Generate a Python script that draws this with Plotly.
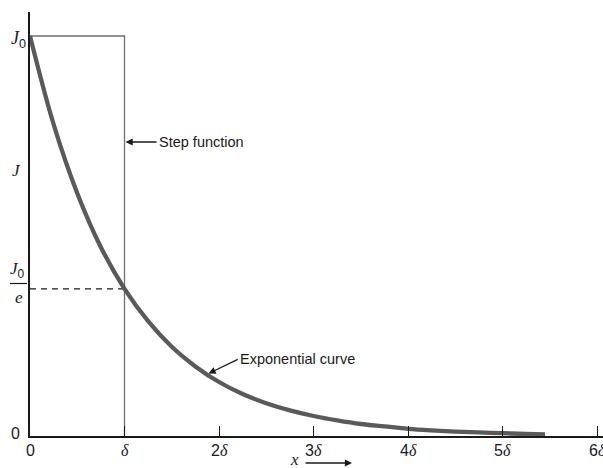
import plotly.graph_objects as go

# Current density profile J(x) in units of J0, positions in units of delta
curve_x = [0.0, 0.25, 0.5, 0.75, 1.0, 1.25, 1.5, 1.75, 2.0, 2.25, 2.5, 2.75,
           3.0, 3.25, 3.5, 3.75, 4.0, 4.25, 4.5, 4.75, 5.0, 5.25, 5.45]
curve_j = [1.000, 0.779, 0.607, 0.472, 0.368, 0.287, 0.223, 0.174, 0.135, 0.105,
           0.082, 0.064, 0.050, 0.039, 0.030, 0.024, 0.018, 0.014, 0.011, 0.009,
           0.007, 0.005, 0.004]

# Step-function approximation: uniform J0 down to depth delta
step_x = [0.0, 1.0, 1.0]
step_j = [1.0, 1.0, 0.0]

# Level J0/e reached at x = delta
level_x = [0.0, 1.0]
level_j = [0.368, 0.368]

tick_vals = [0, 1, 2, 3, 4, 5, 6]
tick_nums = ["0", "", "2", "3", "4", "5", "6"]

SERIF = "Liberation Serif"
SANS = "Liberation Sans"
INK = "#1a1a1a"

L, R, T, B = 30, 0, 12, 32
W, H = 603, 468
PW, PH = W - L - R, H - T - B


def px(xp):
    return (xp - L) / PW


def py(yp):
    return (H - B - yp) / PH


fig = go.Figure()
fig.add_trace(go.Scatter(x=step_x, y=step_j, mode="lines",
                         line=dict(color="#707070", width=1.3),
                         hoverinfo="skip", showlegend=False, cliponaxis=False))
fig.add_trace(go.Scatter(x=level_x, y=level_j, mode="lines",
                         line=dict(color=INK, width=1.3, dash="6px,5px"),
                         hoverinfo="skip", showlegend=False, cliponaxis=False))
fig.add_trace(go.Scatter(x=curve_x, y=curve_j, mode="lines",
                         line=dict(color="#5a5a5a", width=4.3, shape="spline"),
                         hoverinfo="skip", showlegend=False, cliponaxis=False))

fig.update_layout(
    width=W, height=H,
    margin=dict(l=L, r=R, t=T, b=B),
    paper_bgcolor="white", plot_bgcolor="white",
    font=dict(family=SANS, color=INK, size=14),
    xaxis=dict(range=[0, 6.063], tickvals=tick_vals, showticklabels=False,
               ticks="inside", ticklen=10, tickwidth=1.3, tickcolor=INK,
               showline=True, linecolor=INK, linewidth=1.6,
               showgrid=False, zeroline=False, fixedrange=True),
    yaxis=dict(range=[0, 1.06], showticklabels=False, ticks="",
               showline=True, linecolor=INK, linewidth=1.6,
               showgrid=False, zeroline=False, fixedrange=True),
)

ann = []
# x tick labels: sans numerals with an italic serif delta
for v, n in zip(tick_vals, tick_nums):
    if v == 0:
        txt = "0"
    else:
        txt = (f"<span style='font-family:{SANS}'>{n}</span>"
               f"<span style='font-family:{SERIF}'><i>δ</i></span>")
    ann.append(dict(xref="x", yref="paper", x=v, y=py(450), xanchor="center",
                    yanchor="middle", text=txt, showarrow=False,
                    font=dict(size=16, family=SANS, color=INK)))

# y-axis labels
ann.append(dict(xref="paper", yref="paper", x=px(22), y=py(433), xanchor="right",
                yanchor="middle", text="0", showarrow=False,
                font=dict(size=16, family=SANS, color=INK)))
ann.append(dict(xref="paper", yref="paper", x=px(28), y=py(40), xanchor="right",
                yanchor="middle",
                text=f"<span style='font-family:{SERIF}'><i>J</i></span><sub>0</sub>",
                showarrow=False, font=dict(size=18, family=SANS, color=INK)))
ann.append(dict(xref="paper", yref="paper", x=px(23), y=py(170), xanchor="right",
                yanchor="middle", text="<i>J</i>", showarrow=False,
                font=dict(size=17, family=SERIF, color=INK)))
ann.append(dict(xref="paper", yref="paper", x=px(27), y=py(270), xanchor="right",
                yanchor="middle",
                text=f"<span style='font-family:{SERIF}'><i>J</i></span><sub>0</sub>",
                showarrow=False, font=dict(size=17, family=SANS, color=INK)))
ann.append(dict(xref="paper", yref="paper", x=px(18.5), y=py(297), xanchor="center",
                yanchor="middle", text="<i>e</i>", showarrow=False,
                font=dict(size=17, family=SERIF, color=INK)))

# x-axis label with direction arrow
ann.append(dict(xref="paper", yref="paper", x=px(294), y=py(459), xanchor="center",
                yanchor="middle", text="<i>x</i>", showarrow=False,
                font=dict(size=17, family=SERIF, color=INK)))
ann.append(dict(xref="paper", yref="paper", x=px(352), y=py(463), text="",
                showarrow=True, arrowhead=2, arrowsize=1.1, arrowwidth=1.3,
                arrowcolor=INK, ax=-48, ay=0))

# callouts
ann.append(dict(x=1.0, y=0.735, xref="x", yref="y", text="Step function",
                showarrow=True, arrowhead=2, arrowsize=1.1, arrowwidth=1.3,
                arrowcolor=INK, ax=32, ay=0, xanchor="left",
                font=dict(size=14.5, family=SANS, color=INK), standoff=1))
ann.append(dict(x=1.87, y=0.154, xref="x", yref="y", text="Exponential curve",
                showarrow=True, arrowhead=2, arrowsize=1.1, arrowwidth=1.3,
                arrowcolor=INK, ax=31, ay=-15, xanchor="left",
                font=dict(size=14.5, family=SANS, color=INK), standoff=2))

fig.update_layout(annotations=ann)

# fraction bar for J0/e
fig.add_shape(type="line", xref="paper", yref="paper",
              x0=px(10), x1=px(27), y0=py(283.5), y1=py(283.5),
              line=dict(color=INK, width=1.2))

fig.write_html("out.html")
